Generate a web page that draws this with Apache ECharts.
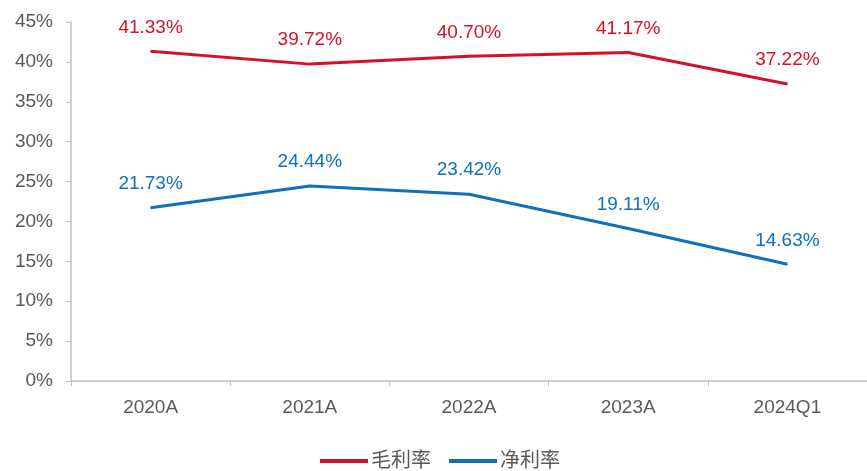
<!DOCTYPE html>
<html>
<head>
<meta charset="utf-8">
<script src="https://cdn.jsdelivr.net/npm/echarts@6/dist/echarts.min.js"></script>
<style>
html,body{margin:0;padding:0;background:#fff;}
#chart{width:867px;height:471px;}
</style>
</head>
<body>
<div id="chart"></div>
<script>
// Margin data (%)
const categories = ['2020A', '2021A', '2022A', '2023A', '2024Q1'];
const grossMargin = [41.33, 39.72, 40.70, 41.17, 37.22];
const netMargin = [21.73, 24.44, 23.42, 19.11, 14.63];
const seriesNames = ['毛利率', '净利率'];

const font = 'Arial, "Liberation Sans", "Noto Sans CJK SC", sans-serif';
const axisGrey = '#bfbfbf';
const textGrey = '#595959';
const red = '#d7102a';
const blue = '#0f70bd';

function lineSeries(name, values, color) {
  return {
    name: name,
    type: 'line',
    data: values,
    symbol: 'circle',
    symbolSize: 1,
    lineStyle: { color: color, width: 3 },
    itemStyle: { color: color },
    label: {
      show: true, position: 'top', distance: 14,
      color: color, fontSize: 19, fontFamily: font,
      formatter: p => p.value.toFixed(2) + '%'
    }
  };
}

const chart = echarts.init(document.getElementById('chart'));
chart.setOption({
  animation: false,
  backgroundColor: '#fff',
  grid: { left: 71, right: 0, top: 22, bottom: 90 },
  legend: {
    left: 315,
    top: 446,
    itemWidth: 48,
    itemHeight: 4,
    itemGap: 18,
    icon: 'rect',
    textStyle: { color: textGrey, fontSize: 20, fontFamily: font, padding: [0, 0, 0, -2] },
    data: seriesNames
  },
  xAxis: {
    type: 'category',
    data: categories,
    boundaryGap: true,
    axisLine: { lineStyle: { color: axisGrey, width: 1.5 } },
    axisTick: { show: true, length: 5, lineStyle: { color: axisGrey } },
    axisLabel: { color: textGrey, fontSize: 19, fontFamily: font, margin: 17 }
  },
  yAxis: {
    type: 'value',
    min: 0,
    max: 45,
    interval: 5,
    splitLine: { show: false },
    axisLine: { show: true, lineStyle: { color: axisGrey, width: 1.5 } },
    axisTick: { show: true, length: 5, lineStyle: { color: axisGrey } },
    axisLabel: { color: textGrey, fontSize: 19, fontFamily: font, margin: 18, formatter: '{value}%' }
  },
  series: [
    lineSeries(seriesNames[0], grossMargin, red),
    lineSeries(seriesNames[1], netMargin, blue)
  ]
});
</script>
</body>
</html>
